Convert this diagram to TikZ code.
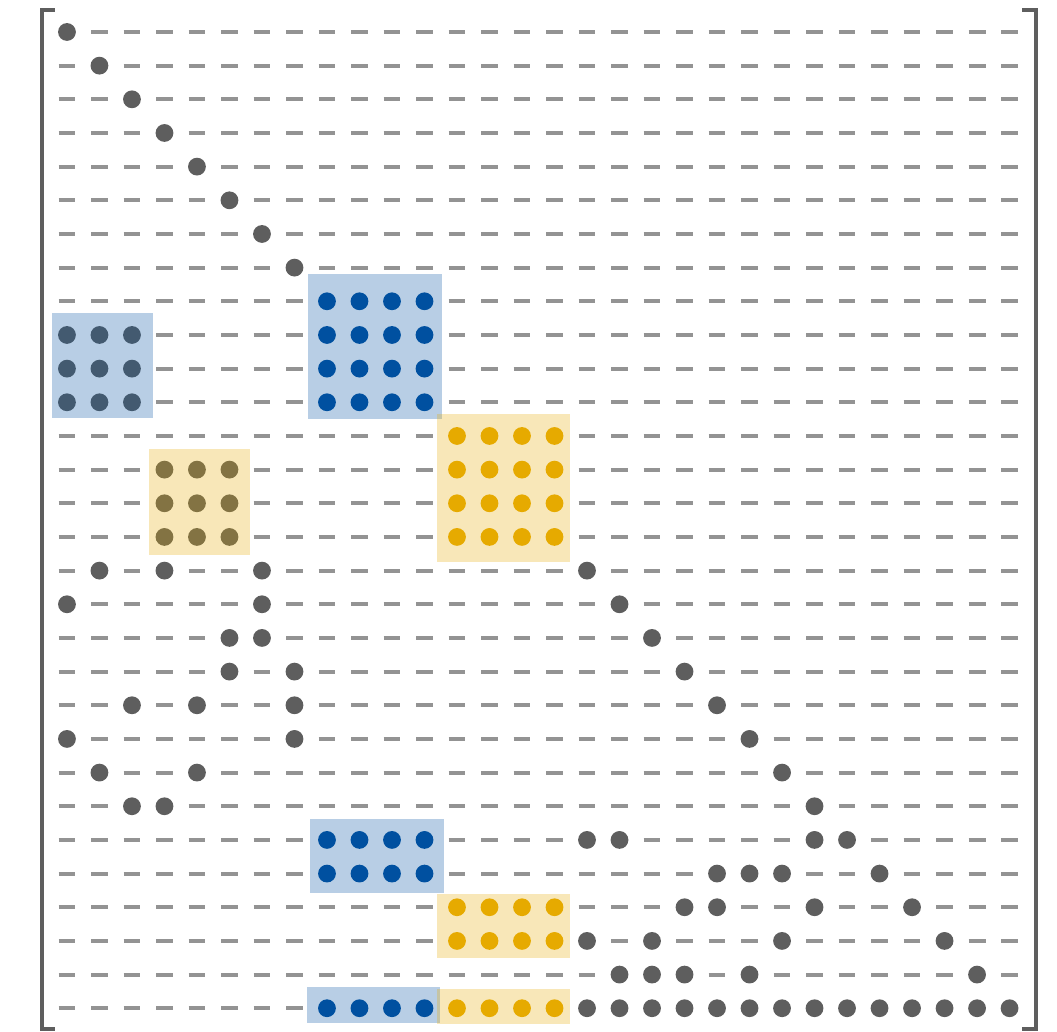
\documentclass[tikz,border=0pt]{standalone}
\usepackage{tikz}
\usetikzlibrary{calc}
\definecolor{zerogray}{HTML}{939393}
\definecolor{nzgray}{HTML}{5E5E5E}
\definecolor{bkblue}{HTML}{0050A0}
\definecolor{bkyellow}{HTML}{E6AA00}
\tikzset{
  zero/.style      = {line width=2.3pt, zerogray},
  nz/.style        = {fill=nzgray},
  nzblue/.style    = {fill=bkblue},
  nzyellow/.style  = {fill=bkyellow},
  blueblk/.style   = {fill=bkblue, fill opacity=0.28},
  yellowblk/.style = {fill=bkyellow, fill opacity=0.28},
  brack/.style     = {line width=2.3pt, nzgray},
}

\begin{document}
\begin{tikzpicture}[x=0.65cm,y=-0.6732cm]
  \useasboundingbox (-1.06,0.05) rectangle (31.46,30.68);
  % brackets
  \draw[brack] (0.63,0.35) -- (0.22,0.35) -- (0.22,30.62) -- (0.63,30.62);
  \draw[brack] (30.39,0.35) -- (30.82,0.35) -- (30.82,30.62) -- (30.39,30.62);
  % gray nonzeros, row/columns
  \foreach \r/\cs in {1/1, 2/2, 3/3, 4/4, 5/5, 6/6, 7/7, 8/8,
      10/{1,2,3}, 11/{1,2,3}, 12/{1,2,3},
      14/{4,5,6}, 15/{4,5,6}, 16/{4,5,6},
      17/{2,4,7,17}, 18/{1,7,18}, 19/{6,7,19}, 20/{6,8,20},
      21/{3,5,8,21}, 22/{1,8,22}, 23/{2,5,23}, 24/{3,4,24},
      25/{17,18,24,25}, 26/{21,22,23,26}, 27/{20,21,24,27},
      28/{17,19,23,28}, 29/{18,19,20,22,29}, 30/{17,...,30}}
    \foreach \c in \cs {
      \fill[nz] (\c,\r) circle[radius=1.78mm];
      \expandafter\gdef\csname nz-\r-\c\endcsname{}
    };
  % blue and yellow blocks
  \foreach \r in {9,10,11,12,25,26,30}
    \foreach \c in {9,...,12} {
      \fill[nzblue] (\c,\r) circle[radius=1.78mm];
      \expandafter\gdef\csname nz-\r-\c\endcsname{}
    };
  \foreach \r in {13,14,15,16,27,28,30}
    \foreach \c in {13,...,16} {
      \fill[nzyellow] (\c,\r) circle[radius=1.78mm];
      \expandafter\gdef\csname nz-\r-\c\endcsname{}
    };
  % zeros
  \foreach \r in {1,...,30}
    \foreach \c in {1,...,30} {
      \ifcsname nz-\r-\c\endcsname\else
        \draw[zero] (\c-0.26,\r) -- (\c+0.26,\r);
      \fi
    };
  % highlights
  \fill[blueblk]   (0.54,9.35) rectangle (3.65,12.47);
  \fill[blueblk]   (8.42,8.19) rectangle (12.54,12.50);
  \fill[yellowblk] (3.52,13.39) rectangle (6.63,16.54);
  \fill[yellowblk] (12.39,12.35) rectangle (16.48,16.75);
  \fill[blueblk]   (8.48,24.38) rectangle (12.60,26.58);
  \fill[yellowblk] (12.39,26.61) rectangle (16.48,28.51);
  \fill[blueblk]   (8.39,29.37) rectangle (12.48,30.44);
  \fill[yellowblk] (12.39,29.43) rectangle (16.48,30.47);
\end{tikzpicture}
\end{document}
